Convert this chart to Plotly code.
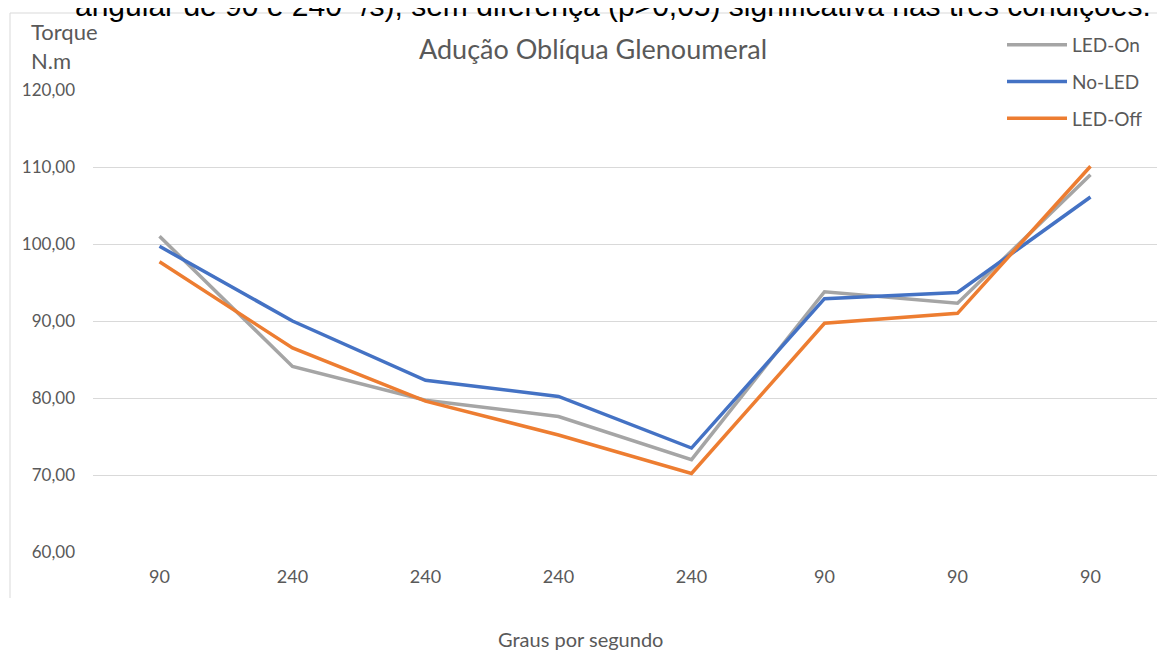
import plotly.graph_objects as go

categories = ["90", "240", "240", "240", "240", "90", "90", "90"]
led_on = [101.0, 84.1, 79.7, 77.6, 72.0, 93.8, 92.3, 109.0]
no_led = [99.7, 90.0, 82.3, 80.2, 73.5, 92.9, 93.7, 106.1]
led_off = [97.7, 86.5, 79.6, 75.2, 70.2, 89.7, 91.0, 110.1]
y_ticks = [60, 70, 80, 90, 100, 110, 120]
y_ticktext = ["60,00", "70,00", "80,00", "90,00", "100,00", "110,00", "120,00"]

OFF = 8  # default page body margin
W, H = 1165 - OFF, 653 - OFF
L, R, T = 93 - OFF, 8, 90 - OFF
B = H - (552 - OFF)
PW, PH = W - L - R, H - T - B


def px(x):
    return (x - OFF - L) / PW


def py(y):
    return (H - B - (y - OFF)) / PH


xs = list(range(len(categories)))
FONT = "Lato"
GREY = "#595959"

fig = go.Figure()
series = [("LED-On", led_on, "#A5A5A5"), ("No-LED", no_led, "#4472C4"), ("LED-Off", led_off, "#ED7D31")]
for name, vals, col in series:
    fig.add_trace(go.Scatter(x=xs, y=vals, mode="lines", name=name, legendgroup=name,
                             line=dict(color=col, width=3.5)))


def ann(text, x, y, size, color=GREY, family=FONT, xanchor="center"):
    return dict(text=text, x=px(x), y=py(y), xref="paper", yref="paper", xanchor=xanchor,
                yanchor="middle", showarrow=False, font=dict(size=size, color=color, family=family))


fig.update_layout(
    width=W, height=H,
    margin=dict(l=L, r=R, t=T, b=B),
    paper_bgcolor="white", plot_bgcolor="white",
    font=dict(family=FONT, color=GREY, size=14),
    showlegend=True,
    legend=dict(x=px(1002), y=py(26), xanchor="left", yanchor="top",
                font=dict(size=19, color=GREY), tracegroupgap=9,
                bgcolor="rgba(0,0,0,0)", itemwidth=60),
    xaxis=dict(tickmode="array", tickvals=xs, ticktext=categories, range=[-0.5, len(categories) - 0.5],
               showgrid=False, zeroline=False, showline=False, ticks="",
               tickfont=dict(size=18, color=GREY), ticklabelstandoff=12),
    yaxis=dict(tickmode="array", tickvals=y_ticks, ticktext=y_ticktext, range=[60, 120],
               showgrid=True, gridcolor="#D9D9D9", gridwidth=1, zeroline=False, showline=False,
               ticks="", tickfont=dict(size=17, color=GREY), ticklabelstandoff=17),
    annotations=[
        ann("Adução Oblíqua Glenoumeral", 593, 48, 27),
        ann("Torque", 29, 31, 22, xanchor="left"),
        ann("N.m", 29, 60, 22, xanchor="left"),
        ann("Graus por segundo", 580, 639, 20),
        ann("angular de 90 e 240 º/s), sem diferença (p>0,05) significativa nas três condições.",
            613, 6, 30, color="black", family="Liberation Sans"),
    ],
    shapes=[
        dict(type="line", xref="paper", yref="paper", x0=px(10), x1=px(10), y0=py(13), y1=py(598),
             line=dict(color="#D9D9D9", width=1)),
        dict(type="line", xref="paper", yref="paper", x0=px(10), x1=px(1170), y0=py(13), y1=py(13),
             line=dict(color="#D9D9D9", width=1)),
    ],
)

fig.write_html("out.html")
